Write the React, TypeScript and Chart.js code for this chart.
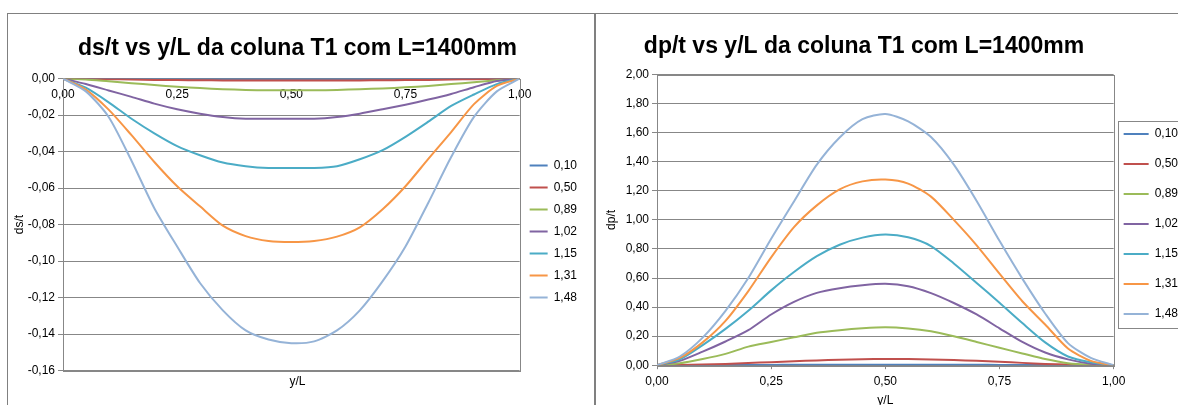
import React, { useEffect, useRef } from 'react';
import { Chart, registerables } from 'chart.js';

Chart.register(...registerables);

// ---------- data ----------
const yOverL = [0, 0.05, 0.1, 0.15, 0.2, 0.25, 0.3, 0.35, 0.4, 0.45, 0.5, 0.55, 0.6, 0.65, 0.7, 0.75, 0.8, 0.85, 0.9, 0.95, 1];
const seriesLabels = ['0,10', '0,50', '0,89', '1,02', '1,15', '1,31', '1,48'];
const seriesColors = ['#4F81BD', '#C0504D', '#9BBB59', '#8064A2', '#4BACC6', '#F79646', '#95B3D7'];

// ds/t (left chart)
const ds010 = [0, -0.00002, -0.00004, -0.00006, -0.00008, -0.0001, -0.00011, -0.00012, -0.00012, -0.00012, -0.00012, -0.00012, -0.00012, -0.00012, -0.00011, -0.0001, -0.00008, -0.00006, -0.00004, -0.00002, 0];
const ds050 = [0, -0.0001, -0.0003, -0.0005, -0.0007, -0.0008, -0.0009, -0.001, -0.001, -0.001, -0.001, -0.001, -0.001, -0.001, -0.0009, -0.0008, -0.0007, -0.0005, -0.0003, -0.0001, 0];
const ds089 = [0, -0.0005, -0.0015, -0.0025, -0.0035, -0.0045, -0.0052, -0.0058, -0.0062, -0.0064, -0.0064, -0.0064, -0.0062, -0.0058, -0.0054, -0.0048, -0.004, -0.003, -0.002, -0.0009, 0];
const ds102 = [0, -0.003, -0.0065, -0.01, -0.0137, -0.0168, -0.0192, -0.021, -0.022, -0.022, -0.022, -0.022, -0.021, -0.0192, -0.0168, -0.0143, -0.0115, -0.0084, -0.0047, -0.0013, 0];
const ds115 = [0, -0.005, -0.013, -0.022, -0.03, -0.037, -0.042, -0.046, -0.048, -0.049, -0.049, -0.049, -0.048, -0.0442, -0.0392, -0.0319, -0.0236, -0.015, -0.0087, -0.003, 0];
const ds131 = [0, -0.006, -0.017, -0.031, -0.0457, -0.059, -0.07, -0.0806, -0.0863, -0.089, -0.0896, -0.089, -0.0866, -0.0815, -0.0716, -0.059, -0.044, -0.0293, -0.014, -0.004, 0];
const ds148 = [0, -0.007, -0.021, -0.045, -0.071, -0.092, -0.112, -0.127, -0.138, -0.143, -0.145, -0.144, -0.138, -0.127, -0.111, -0.092, -0.068, -0.043, -0.021, -0.007, 0];

// dp/t (right chart)
const dp010 = [0, 0, 0.0005, 0.001, 0.0015, 0.002, 0.0025, 0.003, 0.003, 0.003, 0.003, 0.003, 0.003, 0.003, 0.0025, 0.002, 0.0015, 0.001, 0.0005, 0, 0];
const dp050 = [0, 0.001, 0.004, 0.009, 0.015, 0.021, 0.027, 0.033, 0.038, 0.041, 0.043, 0.042, 0.04, 0.036, 0.03, 0.023, 0.016, 0.009, 0.004, 0.001, 0];
const dp089 = [0, 0.014, 0.043, 0.078, 0.128, 0.16, 0.192, 0.223, 0.241, 0.254, 0.261, 0.253, 0.233, 0.199, 0.16, 0.12, 0.081, 0.042, 0.014, 0.003, 0];
const dp102 = [0, 0.03, 0.093, 0.163, 0.241, 0.349, 0.436, 0.498, 0.53, 0.55, 0.56, 0.544, 0.496, 0.428, 0.349, 0.254, 0.16, 0.087, 0.04, 0.01, 0];
const dp115 = [0, 0.04, 0.138, 0.25, 0.375, 0.515, 0.641, 0.75, 0.829, 0.878, 0.899, 0.88, 0.82, 0.7, 0.566, 0.43, 0.29, 0.157, 0.06, 0.02, 0];
const dp131 = [0, 0.05, 0.157, 0.305, 0.51, 0.742, 0.95, 1.1, 1.21, 1.265, 1.278, 1.25, 1.16, 1.0, 0.825, 0.63, 0.44, 0.28, 0.115, 0.03, 0];
const dp148 = [0, 0.06, 0.19, 0.374, 0.6, 0.87, 1.127, 1.38, 1.567, 1.693, 1.729, 1.678, 1.57, 1.38, 1.13, 0.856, 0.596, 0.356, 0.152, 0.05, 0];

const dsSeries = [ds010, ds050, ds089, ds102, ds115, ds131, ds148];
const dpSeries = [dp010, dp050, dp089, dp102, dp115, dp131, dp148];

const leftTitle = 'ds/t vs y/L da coluna T1 com L=1400mm';
const rightTitle = 'dp/t vs y/L da coluna T1 com L=1400mm';

// ---------- styling ----------
const FONT = "'Liberation Sans', Arial, sans-serif";
const GRID = '#878787';
const TEXT = '#000000';

const fmt = (v: number | string) => {
  const n = Number(v);
  const m = Math.abs(n) < 1e-9 ? 0 : n;
  return m.toFixed(2).replace('.', ',');
};

const plotFrame = {
  id: 'plotFrame',
  beforeDatasetsDraw(chart: any) {
    const { ctx, chartArea } = chart;
    ctx.save();
    ctx.strokeStyle = GRID;
    ctx.lineWidth = 1;
    ctx.strokeRect(
      Math.round(chartArea.left) + 0.5,
      Math.round(chartArea.top) + 0.5,
      Math.round(chartArea.right - chartArea.left),
      Math.round(chartArea.bottom - chartArea.top)
    );
    ctx.restore();
  },
};

// moves legend / title blocks after layout, and optionally frames the legend
const boxShift = {
  id: 'boxShift',
  afterLayout(chart: any, _args: any, opts: any) {
    if (!opts) return;
    const lg = chart.legend;
    if (lg) {
      const dx = opts.dx || 0;
      const dy = opts.dy || 0;
      lg.left += dx; lg.right += dx; lg.top += dy; lg.bottom += dy;
    }
    const tb = chart.titleBlock;
    if (tb && opts.titleDx) {
      tb.left += opts.titleDx; tb.right += opts.titleDx;
    }
  },
  afterDraw(chart: any, _args: any, opts: any) {
    if (!opts || !opts.frame) return;
    const lg = chart.legend;
    const hb = lg.legendHitBoxes;
    if (!hb || !hb.length) return;
    const { ctx } = chart;
    const top = hb[0].top - opts.frameTop;
    const last = hb[hb.length - 1];
    const bottom = last.top + last.height + opts.frameBottom;
    const left = hb[0].left - opts.frameLeft;
    ctx.save();
    ctx.strokeStyle = GRID;
    ctx.lineWidth = 1;
    ctx.strokeRect(Math.round(left) + 0.5, Math.round(top) + 0.5, chart.width, Math.round(bottom - top));
    ctx.restore();
  },
};

function makeDatasets(series: number[][]) {
  return series.map((vals, i) => ({
    label: seriesLabels[i],
    data: yOverL.map((x, j) => ({ x, y: vals[j] })),
    borderColor: seriesColors[i],
    backgroundColor: seriesColors[i],
    borderWidth: 2,
    pointRadius: 0,
    pointStyle: 'line',
    tension: 0.25,
    order: seriesLabels.length - i,
  }));
}

const byIndex = (a: any, b: any) => a.datasetIndex - b.datasetIndex;

function leftConfig(): any {
  return {
    type: 'line',
    data: { datasets: makeDatasets(dsSeries) },
    plugins: [plotFrame, boxShift],
    options: {
      animation: false,
      responsive: false,
      maintainAspectRatio: false,
      layout: { padding: { left: 0, right: 7, top: 0, bottom: 25 } },
      plugins: {
        title: {
          display: true,
          text: leftTitle,
          color: TEXT,
          font: { family: FONT, size: 23, weight: 'bold' },
          padding: { top: 21, bottom: 16 },
        },
        subtitle: {
          display: true,
          position: 'bottom',
          text: 'y/L',
          color: TEXT,
          font: { family: FONT, size: 12 },
          padding: { top: 4, bottom: 0 },
        },
        legend: {
          position: 'right',
          labels: {
            usePointStyle: true,
            pointStyle: 'line',
            pointStyleWidth: 18,
            boxHeight: 11,
            padding: 10,
            color: TEXT,
            font: { family: FONT, size: 12 },
            sort: byIndex,
          },
        },
        boxShift: { dx: 0, dy: 30 },
        tooltip: { enabled: false },
      },
      scales: {
        x: {
          type: 'linear',
          position: { y: 0 },
          min: 0,
          max: 1,
          ticks: { stepSize: 0.25, callback: fmt, color: TEXT, font: { family: FONT, size: 12 }, padding: 1 },
          grid: { display: false },
          border: { display: true, color: GRID },
        },
        y: {
          type: 'linear',
          min: -0.16,
          max: 0,
          ticks: { stepSize: 0.02, callback: fmt, color: TEXT, font: { family: FONT, size: 12 }, padding: 3 },
          grid: { color: GRID, tickLength: 5 },
          border: { color: GRID },
          title: { display: true, text: 'ds/t', color: TEXT, font: { family: FONT, size: 12 }, padding: { top: 4, bottom: 0 } },
          afterFit(scale: any) { scale.width = 55; },
        },
      },
    },
  };
}

function rightConfig(): any {
  return {
    type: 'line',
    data: { datasets: makeDatasets(dpSeries) },
    plugins: [plotFrame, boxShift],
    options: {
      animation: false,
      responsive: false,
      maintainAspectRatio: false,
      layout: { padding: { left: 0, right: 0, top: 0, bottom: 6 } },
      plugins: {
        title: {
          display: true,
          text: rightTitle,
          color: TEXT,
          font: { family: FONT, size: 23, weight: 'bold' },
          padding: { top: 19, bottom: 14 },
        },
        legend: {
          position: 'right',
          labels: {
            usePointStyle: true,
            pointStyle: 'line',
            pointStyleWidth: 25,
            boxHeight: 11,
            padding: 18,
            color: TEXT,
            font: { family: FONT, size: 12 },
            sort: byIndex,
          },
        },
        boxShift: { dx: -8, dy: 13, titleDx: -32, frame: true, frameTop: 7, frameBottom: 8, frameLeft: 6 },
        tooltip: { enabled: false },
      },
      scales: {
        x: {
          type: 'linear',
          position: 'bottom',
          min: 0,
          max: 1,
          ticks: { stepSize: 0.25, callback: fmt, color: TEXT, font: { family: FONT, size: 12 }, padding: 5 },
          grid: { display: true, drawOnChartArea: false, color: GRID, tickLength: 4 },
          border: { color: GRID },
          title: { display: true, text: 'y/L', color: TEXT, font: { family: FONT, size: 12 }, padding: { top: 0, bottom: 0 } },
        },
        y: {
          type: 'linear',
          min: 0,
          max: 2,
          ticks: { stepSize: 0.2, callback: fmt, color: TEXT, font: { family: FONT, size: 12 }, padding: 3 },
          grid: { color: GRID, tickLength: 5 },
          border: { color: GRID },
          title: { display: true, text: 'dp/t', color: TEXT, font: { family: FONT, size: 12 }, padding: { top: 8, bottom: 0 } },
          afterFit(scale: any) { scale.width = 61; },
        },
      },
    },
  };
}

function ChartCanvas({ make, width, height }: { make: () => any; width: number; height: number }) {
  const ref = useRef<HTMLCanvasElement>(null);
  useEffect(() => {
    const chart = new Chart(ref.current as HTMLCanvasElement, make());
    return () => chart.destroy();
  }, []);
  return <canvas ref={ref} width={width} height={height} style={{ display: 'block', width, height }} />;
}

export default function App() {
  return (
    <div style={{ position: 'absolute', left: 0, top: 0, width: 1178, height: 405, overflow: 'hidden', background: '#fff' }}>
      <div style={{ position: 'absolute', left: 7, top: 13, width: 588, height: 430, border: '1px solid #808080', boxSizing: 'border-box' }}>
        <ChartCanvas make={leftConfig} width={586} height={400} />
      </div>
      <div style={{ position: 'absolute', left: 595, top: 13, width: 640, height: 430, border: '1px solid #808080', boxSizing: 'border-box' }}>
        <ChartCanvas make={rightConfig} width={600} height={400} />
      </div>
    </div>
  );
}
